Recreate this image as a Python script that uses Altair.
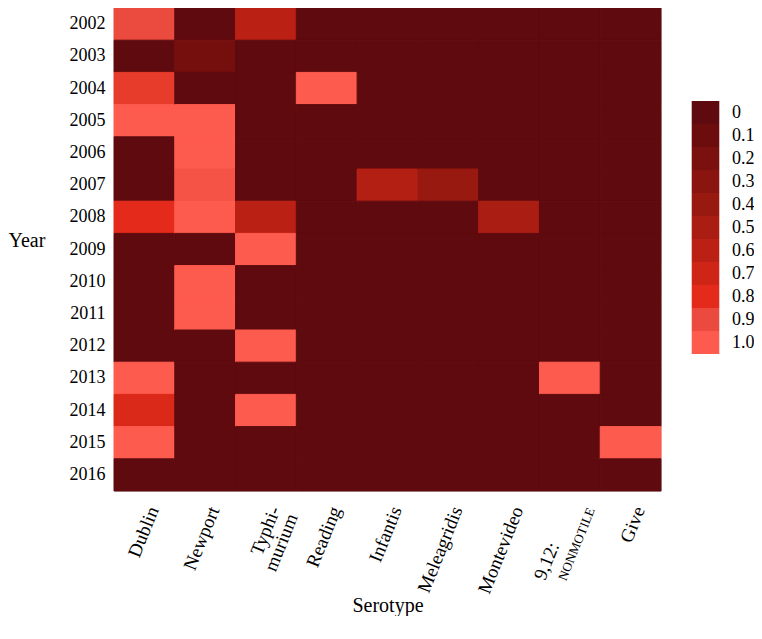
import altair as alt
import pandas as pd

years = [2002, 2003, 2004, 2005, 2006, 2007, 2008, 2009, 2010, 2011, 2012, 2013, 2014, 2015, 2016]
serotypes = ["Dublin", "Newport", "Typhimurium", "Reading", "Infantis",
             "Meleagridis", "Montevideo", "9,12: NONMOTILE", "Give"]

dublin      = [0.9, 0, 0.85, 1.0, 0, 0, 0.8, 0, 0, 0, 0, 1.0, 0.75, 1.0, 0]
newport     = [0, 0.15, 0, 1.0, 1.0, 0.95, 1.0, 0, 1.0, 1.0, 0, 0, 0, 0, 0]
typhimurium = [0.6, 0, 0, 0, 0, 0, 0.6, 1.0, 0, 0, 1.0, 0, 1.0, 0, 0]
reading     = [0, 0, 1.0, 0, 0, 0, 0, 0, 0, 0, 0, 0, 0, 0, 0]
infantis    = [0, 0, 0, 0, 0, 0.55, 0, 0, 0, 0, 0, 0, 0, 0, 0]
meleagridis = [0, 0, 0, 0, 0, 0.4, 0, 0, 0, 0, 0, 0, 0, 0, 0]
montevideo  = [0, 0, 0, 0, 0, 0, 0.5, 0, 0, 0, 0, 0, 0, 0, 0]
nonmotile   = [0, 0, 0, 0, 0, 0, 0, 0, 0, 0, 0, 1.0, 0, 0, 0]
give        = [0, 0, 0, 0, 0, 0, 0, 0, 0, 0, 0, 0, 0, 1.0, 0]

series = [dublin, newport, typhimurium, reading, infantis,
          meleagridis, montevideo, nonmotile, give]

levels = [0, 0.1, 0.2, 0.3, 0.4, 0.5, 0.6, 0.7, 0.8, 0.9, 1.0]
colors = ["#5f0a0e", "#6c0c0d", "#7b110f", "#891410", "#981910", "#aa1d12",
          "#bb2014", "#cf2517", "#e42b1b", "#ea4b3e", "#fd5b4e"]

rows = []
for s, vals in zip(serotypes, series):
    for y, v in zip(years, vals):
        rows.append({"Serotype": s, "Year": str(y), "value": v})
df = pd.DataFrame(rows)

FONT = "Liberation Serif"

x_enc = alt.X(
    "Serotype:N",
    sort=serotypes,
    scale=alt.Scale(paddingInner=0, paddingOuter=0),
    axis=alt.Axis(
        title="Serotype",
        labelAngle=-68,
        labelAlign="right",
        labelBaseline="middle",
        labelFont=FONT,
        labelFontSize=19,
        labelColor="black",
        labelPadding=16,
        labelOffset=9,
        labelExpr="datum.label == 'Typhimurium' ? ['Typhi-', 'murium'] : (datum.label == '9,12: NONMOTILE' ? '' : datum.label)",
        labelLineHeight=19,
        ticks=False,
        domain=False,
        grid=False,
        titleFont=FONT,
        titleFontSize=20,
        titleFontWeight="normal",
        titleColor="black",
        titleBaseline="middle",
        titleY=114,
    ),
)

color_scale = alt.Scale(type="linear", domain=levels, range=colors, interpolate="rgb")

heat = alt.Chart(df).mark_rect(strokeWidth=1).encode(
    x=x_enc,
    y=alt.Y(
        "Year:O",
        sort=[str(y) for y in years],
        scale=alt.Scale(paddingInner=0, paddingOuter=0),
        axis=alt.Axis(
            title="Year",
            titleAngle=0,
            titleAlign="left",
            titleBaseline="middle",
            titleX=-106,
            titleY=232,
            titleFont=FONT,
            titleFontSize=20,
            titleFontWeight="normal",
            titleColor="black",
            labelFont=FONT,
            labelFontSize=18,
            labelColor="black",
            labelPadding=9,
            ticks=False,
            domain=False,
            grid=False,
        ),
    ),
    stroke=alt.Stroke("value:Q", scale=color_scale, legend=None),
    color=alt.Color(
        "value:Q",
        scale=color_scale,
        legend=alt.Legend(
            type="symbol",
            values=levels,
            title=None,
            orient="none",
            legendX=580,
            legendY=93,
            direction="vertical",
            symbolType="M-1.2,-1H1.2V1H-1.2Z",
            symbolSize=529,
            symbolStrokeWidth=0,
            rowPadding=0,
            padding=0,
            labelFont=FONT,
            labelFontSize=18,
            labelColor="black",
            labelOffset=15,
            labelOverlap=False,
            labelExpr="datum.value == 0 ? '0' : format(datum.value, '.1f')",
        ),
    ),
)

note_df = pd.DataFrame({"Serotype": ["9,12: NONMOTILE"], "first": ["9,12:"], "second": ["NONMOTILE"]})

note1 = alt.Chart(note_df).mark_text(
    angle=292, align="left", baseline="middle", font=FONT, fontSize=19, color="black",
    dx=-11.4, dy=-28.2,
).encode(
    x=x_enc,
    y=alt.value(571),
    text="first:N",
)

note2 = alt.Chart(note_df).mark_text(
    angle=292, align="left", baseline="middle", font=FONT, fontSize=13, color="black",
    dx=-2.8, dy=-7.0,
).encode(
    x=x_enc,
    y=alt.value(572),
    text="second:N",
)

chart = alt.layer(heat, note1, note2).properties(
    width=547,
    height=483,
    autosize=alt.AutoSizeParams(type="none"),
    padding={"left": 106, "top": 0, "right": 93, "bottom": 125},
).configure_view(stroke=None).configure(background="white")

chart.save("out.html", embed_options={"renderer": "svg", "actions": False})
